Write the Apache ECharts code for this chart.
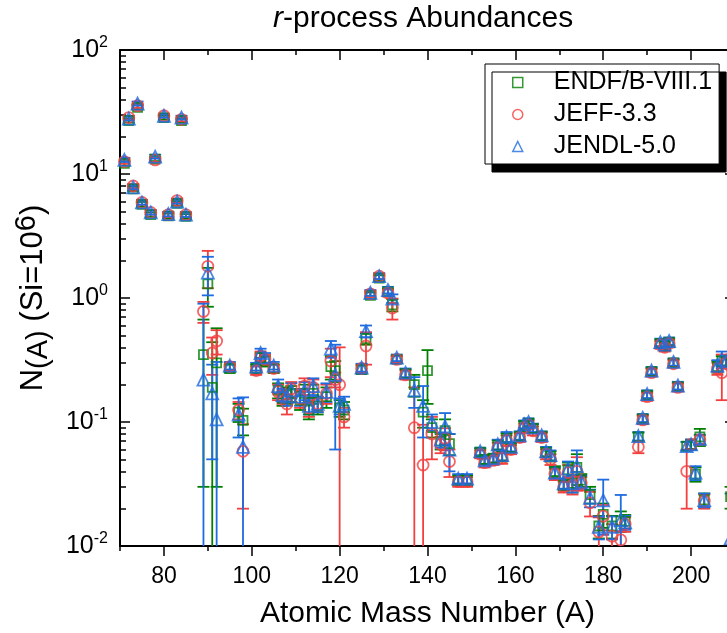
<!DOCTYPE html>
<html><head><meta charset="utf-8">
<script src="https://cdn.jsdelivr.net/npm/echarts@6/dist/echarts.min.js"></script>
<style>html,body{margin:0;padding:0;background:#fff}#c{width:727px;height:633px}</style>
</head><body><div id="c"></div>
<script>
// Mass numbers (x categories of the points)
const massNumbers = [71,72,73,74,75,77,78,80,81,83,84,85,
  89,90,91,92,95,97,98,
  101,102,103,105,106,107,108,109,111,112,113,114,115,117,118,119,120,121,
  125,126,127,129,131,132,133,135,137,139,140,141,143,144,145,147,149,
  152,153,155,156,157,158,159,161,162,163,164,166,167,168,169,171,172,173,174,175,177,179,180,182,184,185,
  188,189,190,191,193,194,195,196,197,199,200,201,202,203,206,207,208,209];

const endfValues = [12.2,27,7.6,34.5,5.7,4.7,13.2,28.5,4.6,5.8,27,4.55,
  0.35,1.3,0.19,0.30,0.27,0.12,0.103,
  0.27,0.33,0.31,0.27,0.18,0.155,0.165,0.17,0.15,0.17,0.125,0.17,0.135,0.16,0.28,0.26,0.13,0.125,
  0.265,0.47,1.05,1.45,1.12,0.88,0.32,0.245,0.20,0.12,0.26,0.09,0.07,0.085,0.067,0.034,0.034,
  0.057,0.05,0.051,0.065,0.053,0.074,0.062,0.077,0.094,0.098,0.089,0.077,0.057,0.053,0.04,0.031,0.041,0.032,0.043,0.034,0.026,0.0145,0.018,0.0145,0.016,0.0158,
  0.076,0.106,0.165,0.255,0.43,0.41,0.44,0.30,0.193,0.064,0.066,0.038,0.076,0.0235,0.28,0.31,0.31,0.025];
const endfErrors = [0.5,1,0.3,1.4,0.25,0.2,0.5,1,0.2,0.25,1,0.2,
  0.32,0.45,0.25,0.27,0.02,0.02,0.025,
  0.02,0.03,0.03,0.02,0.025,0.02,0.025,0.025,0.025,0.03,0.02,0.03,0.02,0.03,0.06,0.05,0.02,0.02,
  0.02,0.05,0.06,0.08,0.07,0.1,0.02,0.02,0.04,0.03,0.12,0.015,0.01,0.02,0.013,0.003,0.003,
  0.004,0.004,0.004,0.006,0.005,0.007,0.005,0.006,0.007,0.007,0.007,0.006,0.005,0.005,0.004,0.003,0.006,0.005,0.012,0.004,0.004,0.003,0.004,0.003,0.003,0.002,
  0.006,0.008,0.012,0.018,0.03,0.03,0.03,0.02,0.014,0.005,0.006,0.005,0.012,0.003,0.03,0.03,0.03,0.005];

const jeffValues = [12.6,28.5,8.0,35.5,5.9,4.9,13.0,29.5,4.7,6.1,27.6,4.7,
  0.78,1.8,0.36,0.45,0.28,0.125,0.058,
  0.26,0.34,0.32,0.27,0.175,0.16,0.14,0.185,0.155,0.195,0.13,0.19,0.14,0.17,0.31,0.22,0.20,0.11,
  0.27,0.41,1.08,1.5,1.1,0.83,0.32,0.24,0.09,0.045,null,0.08,0.066,0.074,0.048,0.033,0.033,
  0.055,0.047,0.049,0.062,0.051,0.071,0.06,0.075,0.09,0.095,0.085,0.075,0.055,0.05,0.038,0.03,0.039,0.031,0.04,0.032,0.0223,0.013,0.0174,0.012,0.0112,0.015,
  0.063,0.104,0.16,0.25,0.42,0.40,0.43,0.295,0.19,0.04,0.066,null,0.072,0.023,0.27,0.25,0.30,null];
const jeffErrors = [0.5,1,0.3,1.4,0.25,0.2,0.5,1,0.2,0.25,1,0.2,
  0.15,0.6,0.12,0.1,0.02,0.02,0.038,
  0.02,0.03,0.03,0.02,0.025,0.02,0.025,0.025,0.025,0.03,0.02,0.03,0.02,0.03,0.08,0.03,0.2,0.02,
  0.02,0.12,0.06,0.08,0.07,0.16,0.02,0.02,0.1,0.05,null,0.03,0.01,0.015,0.012,0.003,0.003,
  0.004,0.004,0.004,0.006,0.005,0.007,0.005,0.006,0.007,0.007,0.007,0.006,0.005,0.005,0.004,0.003,0.006,0.005,0.012,0.004,0.005,0.004,0.004,0.003,0.002,0.002,
  0.007,0.008,0.012,0.018,0.03,0.03,0.03,0.02,0.014,0.02,0.006,null,0.006,0.003,0.03,0.1,0.03,null];

const jendlValues = [13.0,28,7.8,37,5.9,4.9,13.8,29.5,4.75,6.0,28.5,4.7,
  0.22,1.6,0.17,0.105,0.285,0.115,0.063,
  0.28,0.36,0.33,0.285,0.195,0.165,0.16,0.18,0.16,0.18,0.135,0.195,0.14,0.175,0.39,0.24,0.135,0.14,
  0.275,0.54,1.1,1.5,1.16,0.99,0.33,0.25,0.18,0.135,null,0.1,0.072,0.092,0.06,0.035,0.035,
  0.058,0.049,0.051,0.066,0.054,0.076,0.063,0.078,0.096,0.1,0.09,0.078,0.058,0.054,0.039,0.032,0.042,0.032,0.044,0.033,0.0245,0.0143,0.0233,0.0143,0.0162,0.0155,
  0.077,0.108,0.168,0.26,0.44,0.42,0.45,0.305,0.197,0.064,0.066,0.039,0.073,0.0235,0.285,0.32,0.31,0.0115];
const jendlErrors = [0.5,1,0.3,1.4,0.25,0.2,0.5,1,0.2,0.25,1,0.2,
  0.68,0.55,0.12,0.2,0.02,0.04,0.095,
  0.02,0.03,0.03,0.02,0.025,0.02,0.025,0.025,0.025,0.03,0.02,0.03,0.02,0.03,0.06,0.18,0.02,0.02,
  0.02,0.06,0.06,0.08,0.07,0.08,0.02,0.02,0.05,0.06,null,0.015,0.01,0.026,0.02,0.003,0.003,
  0.004,0.004,0.004,0.006,0.005,0.007,0.005,0.006,0.007,0.007,0.007,0.006,0.005,0.005,0.004,0.003,0.006,0.005,0.015,0.004,0.004,0.003,0.011,0.003,0.0096,0.002,
  0.006,0.008,0.012,0.018,0.03,0.03,0.03,0.02,0.014,0.005,0.006,0.005,0.006,0.003,0.03,0.05,0.03,0.015];

const seriesNames = ['ENDF/B-VIII.1','JEFF-3.3','JENDL-5.0'];
const xMajorTicks = [80,100,120,140,160,180,200];
const xMinorTicks = [70,90,110,130,150,170,190,210];
const yMinorTicks = [0.02,0.03,0.04,0.05,0.06,0.07,0.08,0.09,0.2,0.3,0.4,0.5,0.6,0.7,0.8,0.9,2,3,4,5,6,7,8,9,20,30,40,50,60,70,80,90];

const FONT = '"Liberation Sans", Arial, sans-serif';
const colors = ['#008000','#f43f3f','#1f6be0'];
const symbols = ['rect','circle','triangle'];
const symbolSizes = [9,11,12];
const AXIS_MIN = 0.01;

function points(vals){
  const out = [];
  massNumbers.forEach((a,i)=>{ if(vals[i]!=null) out.push([a, vals[i]]); });
  return out;
}
function bars(vals, errs){
  const out = [];
  massNumbers.forEach((a,i)=>{
    if(vals[i]==null || errs[i]==null) return;
    let lo = vals[i]-errs[i], clamped = 0;
    if(lo <= AXIS_MIN*1.01){ lo = AXIS_MIN; clamped = 1; }
    out.push([a, lo, vals[i]+errs[i], clamped]);
  });
  return out;
}
function errRender(color){
  return function(params, api){
    const x = api.value(0), lo = api.value(1), hi = api.value(2), cl = api.value(3);
    const t = api.coord([x, hi]), b = api.coord([x, lo]);
    const w = 6;
    const st = {stroke: color, lineWidth: 1.8, fill: null};
    const ch = [
      {type:'line', shape:{x1:t[0],y1:t[1],x2:b[0],y2:b[1]}, style:st},
      {type:'line', shape:{x1:t[0]-w,y1:t[1],x2:t[0]+w,y2:t[1]}, style:st}
    ];
    if(!cl) ch.push({type:'line', shape:{x1:b[0]-w,y1:b[1],x2:b[0]+w,y2:b[1]}, style:st});
    return {type:'group', children: ch};
  };
}

const allVals = [endfValues, jeffValues, jendlValues];
const allErrs = [endfErrors, jeffErrors, jendlErrors];
const series = [];
for(let k=0;k<3;k++){
  series.push({
    name: seriesNames[k]+' err', type:'custom', xAxisIndex:0, yAxisIndex:0,
    renderItem: errRender(colors[k]), encode:{x:0, y:[1,2]},
    data: bars(allVals[k], allErrs[k]), silent:true, clip:true
  });
  series.push({
    name: seriesNames[k], type:'scatter', xAxisIndex:0, yAxisIndex:0,
    symbol: symbols[k], symbolSize: symbolSizes[k],
    itemStyle:{color:'rgba(255,255,255,0)', borderColor: colors[k], borderWidth:1.8},
    data: points(allVals[k])
  });
}

const tickStyle = {color:'#000', width:1.5};
const chart = echarts.init(document.getElementById('c'), null, {renderer:'canvas'});
chart.setOption({
  animation:false,
  backgroundColor:'#fff',
  textStyle:{fontFamily:FONT},
  title:{
    text:'{i|r}-process Abundances', left:273, top:4, padding:0,
    textStyle:{fontSize:30, fontWeight:'normal', color:'#000', fontFamily:FONT,
      rich:{i:{fontStyle:'italic', fontSize:30, color:'#000', fontFamily:FONT}}}
  },
  grid:{left:120, top:50, right:-8, bottom:87, containLabel:false, outerBoundsMode:'none'},
  legend:{
    orient:'vertical', left:485, top:64,
    padding:[6,7,5,27], itemGap:7, itemWidth:10, itemHeight:10,
    backgroundColor:'#fff', borderColor:'#000', borderWidth:1, borderRadius:0,
    shadowColor:'#000', shadowBlur:0, shadowOffsetX:7, shadowOffsetY:8,
    itemStyle:{borderWidth:1.5},
    textStyle:{fontSize:25, lineHeight:24, color:'#000', fontFamily:FONT, padding:[0,0,0,26]},
    data: seriesNames
  },
  xAxis:[
    {type:'value', position:'bottom', min:70, max:210,
     name:'Atomic Mass Number (A)', nameLocation:'middle', nameGap:53,
     nameTextStyle:{fontSize:30, lineHeight:30, color:'#000', fontFamily:FONT},
     axisLine:{show:true, onZero:false, lineStyle:{color:'#000', width:2}},
     axisTick:{show:true, inside:false, length:10, lineStyle:tickStyle, customValues:xMajorTicks},
     axisLabel:{show:true, customValues:xMajorTicks, fontSize:23, color:'#000', margin:19, fontFamily:FONT},
     splitLine:{show:false}},
    {type:'value', position:'bottom', min:70, max:210,
     axisLine:{show:false, onZero:false},
     axisTick:{show:true, inside:false, length:5, lineStyle:tickStyle, customValues:xMinorTicks},
     axisLabel:{show:false}, splitLine:{show:false}},
    {type:'value', position:'top', min:70, max:210,
     axisLine:{show:true, onZero:false, lineStyle:{color:'#000', width:2}},
     axisTick:{show:true, inside:true, length:10, lineStyle:tickStyle, customValues:xMajorTicks},
     axisLabel:{show:false}, splitLine:{show:false}},
    {type:'value', position:'top', min:70, max:210,
     axisLine:{show:false, onZero:false},
     axisTick:{show:true, inside:true, length:5, lineStyle:tickStyle, customValues:xMinorTicks},
     axisLabel:{show:false}, splitLine:{show:false}}
  ],
  yAxis:[
    {type:'log', logBase:10, position:'left', min:0.01, max:100,
     name:'{n|N}{sub|(A)}{n| (Si=10}{sup|6}{n|)}', nameLocation:'middle', nameGap:62, nameRotate:90,
     nameTextStyle:{color:'#000', fontFamily:FONT, fontSize:31, lineHeight:36,
       rich:{
         n:{fontSize:31, lineHeight:36, color:'#000', fontFamily:FONT},
         sub:{fontSize:29, lineHeight:26, padding:[10,0,0,0], color:'#000', fontFamily:FONT},
         sup:{fontSize:29, lineHeight:22, padding:[0,0,14,0], color:'#000', fontFamily:FONT}
       }},
     axisLine:{show:true, onZero:false, lineStyle:{color:'#000', width:2}},
     axisTick:{show:true, inside:true, length:10, lineStyle:tickStyle},
     axisLabel:{show:true, margin:12, color:'#000', fontFamily:FONT,
       formatter:function(v){ const e = Math.round(Math.log10(v)); return '{b|10}{s|'+e+'}'; },
       rich:{ b:{fontSize:25, lineHeight:30, color:'#000', fontFamily:FONT},
              s:{fontSize:16, lineHeight:20, verticalAlign:'top', color:'#000', fontFamily:FONT} }},
     splitLine:{show:false}, minorTick:{show:false}},
    {type:'log', logBase:10, position:'left', min:0.01, max:100,
     axisLine:{show:false, onZero:false},
     axisTick:{show:true, inside:true, length:6, lineStyle:tickStyle, customValues:yMinorTicks},
     axisLabel:{show:false}, splitLine:{show:false}},
    {type:'log', logBase:10, position:'right', min:0.01, max:100,
     axisLine:{show:true, onZero:false, lineStyle:{color:'#000', width:2}},
     axisTick:{show:true, inside:true, length:10, lineStyle:tickStyle},
     axisLabel:{show:false}, splitLine:{show:false}}
  ],
  series: series
});
</script>
</body></html>
